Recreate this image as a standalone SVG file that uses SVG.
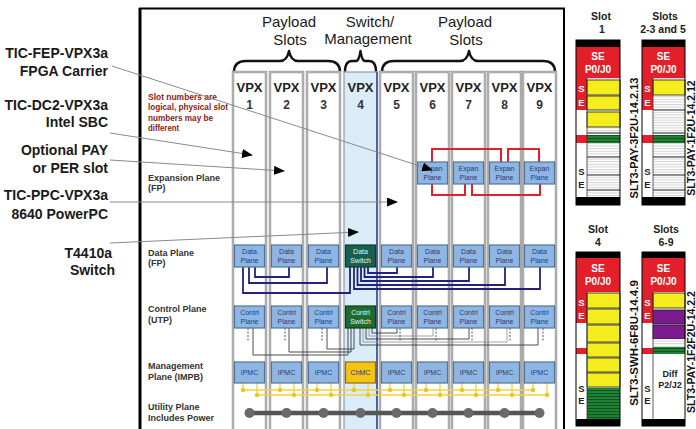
<svg xmlns="http://www.w3.org/2000/svg" width="696" height="429" viewBox="0 0 696 429">
<style>
  text { font-family: "Liberation Sans", Arial, sans-serif; }
  .lbl { font-size: 14px; font-weight: bold; fill: #1a1a1a; text-anchor: end; }
  .hdr { font-size: 15px; fill: #1a1a1a; text-anchor: middle; }
  .vpx { font-size: 13px; font-weight: bold; fill: #222; text-anchor: middle; }
  .num { font-size: 12px; font-weight: bold; fill: #333; text-anchor: middle; }
  .plane { font-size: 9px; font-weight: bold; fill: #333; }
  .note { font-size: 8.6px; font-weight: bold; fill: #8b1a1a; }
  .col { fill: #fff; stroke: #8e8e8e; stroke-width: 2.4; }
  .colin { fill: none; stroke: #e6e6e6; stroke-width: 0.7; }
  .box { fill: #8fb6e3; stroke: #52749c; stroke-width: 1.2; }
  .bt { font-size: 7px; fill: #1f3c78; text-anchor: middle; }
  .wt { font-size: 7px; fill: #e8f4ea; text-anchor: middle; }
  .brace { fill: none; stroke: #111; stroke-width: 2.4; stroke-linejoin: round; }
  .ptr { stroke: #8a8a8a; stroke-width: 1; fill: none; marker-end: url(#ah); }
  .dp { fill: none; stroke: #23237a; stroke-width: 1.8; }
  .ep { fill: none; stroke: #e0202a; stroke-width: 2; }
  .cp { fill: none; stroke: #3a3a3a; stroke-width: 0.9; }
  .cpl { fill: none; stroke: #9a9a9a; stroke-width: 0.9; }
  .dot { fill: none; stroke: #444; stroke-width: 0.9; stroke-dasharray: 2 1.5; }
  .yl { stroke: #f2d33c; stroke-width: 1.3; fill: none; }
  .yd { fill: #f0c419; }
  .slt { font-size: 10.5px; font-weight: bold; fill: #222; text-anchor: middle; }
  .se { font-size: 10px; font-weight: bold; fill: #fff; text-anchor: middle; }
  .sem { font-size: 9.5px; font-weight: bold; fill: #fff; text-anchor: middle; }
  .sed { font-size: 9.5px; font-weight: bold; fill: #222; text-anchor: middle; }
  .vt { font-size: 11px; font-weight: bold; fill: #111; text-anchor: middle; }
  .red { fill: #e3202a; }
  .yel { fill: #f4ec1c; stroke: #222; stroke-width: 0.8; }
  .pur { fill: #7b1b8e; stroke: #222; stroke-width: 0.8; }
  .sep { stroke: #333; stroke-width: 1; }
</style>
<defs>
  <marker id="ah" markerUnits="userSpaceOnUse" markerWidth="11" markerHeight="9" refX="10" refY="4.5" orient="auto">
    <path d="M0,0 L11,4.5 L0,9 Z" fill="#000"/>
  </marker>
  <pattern id="hs" width="6" height="2.6" patternUnits="userSpaceOnUse">
    <rect width="6" height="2.6" fill="#fff"/>
    <line x1="0" y1="0.6" x2="6" y2="0.6" stroke="#b8b8b8" stroke-width="0.7"/>
  </pattern>
  <pattern id="gs" width="6" height="3" patternUnits="userSpaceOnUse">
    <rect width="6" height="3" fill="#1f8236"/>
    <line x1="0" y1="0.6" x2="6" y2="0.6" stroke="#0b4a1b" stroke-width="0.9"/>
  </pattern>
</defs>

<!-- chassis frame -->
<g id="frame">
  <line x1="140" y1="8" x2="140" y2="429" stroke="#000" stroke-width="3"/>
  <line x1="139" y1="8.5" x2="565" y2="8.5" stroke="#000" stroke-width="2"/>
  <line x1="564" y1="8" x2="564" y2="429" stroke="#000" stroke-width="2"/>
</g>

<!-- slot headers -->
<g id="headers">
  <text class="hdr" x="289" y="27">Payload</text>
  <text class="hdr" x="290" y="45">Slots</text>
  <text class="hdr" x="370" y="27">Switch/</text>
  <text class="hdr" x="368" y="44">Management</text>
  <text class="hdr" x="465" y="27">Payload</text>
  <text class="hdr" x="466" y="45">Slots</text>
  <path class="brace" d="M234,72 Q234,61 246,61 L280,61 Q287,61 289,51 Q291,61 298,61 L328,61 Q340,61 340,72"/>
  <path class="brace" d="M345,72 Q345,61 352,61 L356,61 Q359,61 360.5,51 Q362,61 365,61 L369,61 Q376,61 376,72"/>
  <path class="brace" d="M382,72 Q382,61 394,61 L460,61 Q467,61 469,51 Q471,61 478,61 L543,61 Q555,61 555,72"/>
</g>

<!-- slot columns -->
<g id="slots">
  <rect class="col" x="233" y="72" width="33" height="362"/><rect class="colin" x="233" y="72" width="33" height="362"/>
  <rect class="col" x="270" y="72" width="33" height="362"/><rect class="colin" x="270" y="72" width="33" height="362"/>
  <rect class="col" x="307" y="72" width="33" height="362"/><rect class="colin" x="307" y="72" width="33" height="362"/>
  <rect x="344" y="72" width="33" height="362" fill="#d9ecf7" stroke="#9aa6b8" stroke-width="1.4"/>
  <line x1="377" y1="72" x2="377" y2="429" stroke="#2b3a8a" stroke-width="1.4"/>
  <rect class="col" x="380" y="72" width="33" height="362"/><rect class="colin" x="380" y="72" width="33" height="362"/>
  <rect class="col" x="416" y="72" width="33" height="362"/><rect class="colin" x="416" y="72" width="33" height="362"/>
  <rect class="col" x="452" y="72" width="33" height="362"/><rect class="colin" x="452" y="72" width="33" height="362"/>
  <rect class="col" x="488" y="72" width="33" height="362"/><rect class="colin" x="488" y="72" width="33" height="362"/>
  <rect class="col" x="523" y="72" width="33" height="362"/><rect class="colin" x="523" y="72" width="33" height="362"/>

  <text class="vpx" x="249.5" y="92">VPX</text><text class="num" x="249.5" y="109">1</text>
  <text class="vpx" x="286.5" y="92">VPX</text><text class="num" x="286.5" y="109">2</text>
  <text class="vpx" x="323.5" y="92">VPX</text><text class="num" x="323.5" y="109">3</text>
  <text class="vpx" x="360.5" y="92">VPX</text><text class="num" x="360.5" y="109">4</text>
  <text class="vpx" x="396.5" y="92">VPX</text><text class="num" x="396.5" y="109">5</text>
  <text class="vpx" x="432.5" y="92">VPX</text><text class="num" x="432.5" y="109">6</text>
  <text class="vpx" x="468.5" y="92">VPX</text><text class="num" x="468.5" y="109">7</text>
  <text class="vpx" x="504.5" y="92">VPX</text><text class="num" x="504.5" y="109">8</text>
  <text class="vpx" x="539.5" y="92">VPX</text><text class="num" x="539.5" y="109">9</text>
</g>

<!-- plane names and note -->
<g id="plane-labels">
  <text class="note" x="148" y="100" textLength="69" lengthAdjust="spacingAndGlyphs">Slot numbers are</text>
  <text class="note" x="148" y="110" textLength="80" lengthAdjust="spacingAndGlyphs">logical, physical slot</text>
  <text class="note" x="148" y="121" textLength="65" lengthAdjust="spacingAndGlyphs">numbers may be</text>
  <text class="note" x="148" y="131" textLength="31" lengthAdjust="spacingAndGlyphs">different</text>
  <text class="plane" x="148" y="181">Expansion Plane</text>
  <text class="plane" x="148" y="191">(FP)</text>
  <text class="plane" x="148" y="256">Data Plane</text>
  <text class="plane" x="148" y="266">(FP)</text>
  <text class="plane" x="148" y="312">Control Plane</text>
  <text class="plane" x="148" y="323">(UTP)</text>
  <text class="plane" x="148" y="369">Management</text>
  <text class="plane" x="148" y="380">Plane (IMPB)</text>
  <text class="plane" x="148" y="410">Utility Plane</text>
  <text class="plane" x="148" y="421">Includes Power</text>
</g>

<!-- board names -->
<g id="boards">
  <text class="lbl" x="108" y="58">TIC-FEP-VPX3a</text>
  <text class="lbl" x="108" y="76">FPGA Carrier</text>
  <text class="lbl" x="108" y="110">TIC-DC2-VPX3a</text>
  <text class="lbl" x="108" y="127">Intel SBC</text>
  <text class="lbl" x="108" y="155">Optional PAY</text>
  <text class="lbl" x="108" y="173">or PER slot</text>
  <text class="lbl" x="108" y="200">TIC-PPC-VPX3a</text>
  <text class="lbl" x="108" y="219">8640 PowerPC</text>
  <text class="lbl" x="112" y="258">T4410a</text>
  <text class="lbl" x="115" y="275">Switch</text>
</g>

<!-- connectors -->
<g id="connectors">
  <!-- expansion plane links -->
  <path class="ep" d="M432,162 V149 H501 V162"/>
  <path class="ep" d="M508,162 V149 H539 V162"/>
  <path class="ep" d="M432,184 V195 H465 V184"/>
  <path class="ep" d="M472,184 V195 H540 V184"/>
  <!-- data plane links -->
  <path class="dp" d="M255,267 V277 H289 V267"/>
  <path class="dp" d="M249,267 V283 H327 V267"/>
  <path class="dp" d="M243,267 V293 H350 V267"/>
  <path class="dp" d="M368,267 V273 H397 V267"/>
  <path class="dp" d="M364.5,267 V277 H433 V267"/>
  <path class="dp" d="M361,267 V281 H469 V267"/>
  <path class="dp" d="M357.5,267 V285 H505 V267"/>
  <path class="dp" d="M354,267 V289 H540 V267"/>
  <!-- control plane links -->
  <path class="cp" d="M253,328 V355 H348 V328"/>
  <path class="cp" d="M289,328 V352 H351 V328"/>
  <path class="cp" d="M327,328 V349 H354 V328"/>
  <path class="cp" d="M372,328 V333 H397 V328"/>
  <path class="cpl" d="M369,328 V336 H433 V328"/>
  <path class="cp" d="M366,328 V339 H469 V328"/>
  <path class="cpl" d="M363,328 V342 H507 V328"/>
  <path class="cp" d="M360,328 V345 H538 V328"/>
  <path class="dot" d="M248,328 V342 M285,328 V342 M322,328 V342 M400,328 V342 M436,328 V342 M472,328 V342 M510,328 V342 M543,328 V342"/>
  <!-- management bus -->
  <path class="yl" d="M243,390 H533 M257,395 H547"/>
  <path class="yl" d="M243,383 V390 M257,383 V395 M280,383 V390 M294,383 V395 M317,383 V390 M331,383 V395 M354,383 V390 M368,383 V395 M390,383 V390 M404,383 V395 M426,383 V390 M440,383 V395 M462,383 V390 M476,383 V395 M498,383 V390 M512,383 V395 M533,383 V390 M547,383 V395"/>
  <g class="yd">
    <circle cx="243" cy="390" r="2.2"/><circle cx="257" cy="395" r="2.2"/>
    <circle cx="280" cy="390" r="2.2"/><circle cx="294" cy="395" r="2.2"/>
    <circle cx="317" cy="390" r="2.2"/><circle cx="331" cy="395" r="2.2"/>
    <circle cx="354" cy="390" r="2.2"/><circle cx="368" cy="395" r="2.2"/>
    <circle cx="390" cy="390" r="2.2"/><circle cx="404" cy="395" r="2.2"/>
    <circle cx="426" cy="390" r="2.2"/><circle cx="440" cy="395" r="2.2"/>
    <circle cx="462" cy="390" r="2.2"/><circle cx="476" cy="395" r="2.2"/>
    <circle cx="498" cy="390" r="2.2"/><circle cx="512" cy="395" r="2.2"/>
    <circle cx="533" cy="390" r="2.2"/><circle cx="547" cy="395" r="2.2"/>
  </g>
  <!-- utility / power bus -->
  <line x1="248" y1="413" x2="540" y2="413" stroke="#555" stroke-width="4.5" stroke-linecap="round"/>
  <g fill="#6a6a6a">
    <circle cx="249.5" cy="413" r="5"/><circle cx="286.5" cy="413" r="5"/><circle cx="323.5" cy="413" r="5"/>
    <circle cx="360.5" cy="413" r="5"/><circle cx="396.5" cy="413" r="5"/><circle cx="432.5" cy="413" r="5"/>
    <circle cx="468.5" cy="413" r="5"/><circle cx="504.5" cy="413" r="5"/><circle cx="539.5" cy="413" r="5"/>
  </g>
</g>

<!-- expansion plane nodes -->
<g id="expan-6"><rect class="box" x="417.5" y="162" width="30" height="22"/><text class="bt" x="432.5" y="171">Expan</text><text class="bt" x="432.5" y="180">Plane</text></g>
<g id="expan-7"><rect class="box" x="453.5" y="162" width="30" height="22"/><text class="bt" x="468.5" y="171">Expan</text><text class="bt" x="468.5" y="180">Plane</text></g>
<g id="expan-8"><rect class="box" x="489.5" y="162" width="30" height="22"/><text class="bt" x="504.5" y="171">Expan</text><text class="bt" x="504.5" y="180">Plane</text></g>
<g id="expan-9"><rect class="box" x="524.5" y="162" width="30" height="22"/><text class="bt" x="539.5" y="171">Expan</text><text class="bt" x="539.5" y="180">Plane</text></g>

<!-- data plane nodes -->
<g id="data-1"><rect class="box" x="234.5" y="245" width="30" height="22"/><text class="bt" x="249.5" y="254">Data</text><text class="bt" x="249.5" y="263">Plane</text></g>
<g id="data-2"><rect class="box" x="271.5" y="245" width="30" height="22"/><text class="bt" x="286.5" y="254">Data</text><text class="bt" x="286.5" y="263">Plane</text></g>
<g id="data-3"><rect class="box" x="308.5" y="245" width="30" height="22"/><text class="bt" x="323.5" y="254">Data</text><text class="bt" x="323.5" y="263">Plane</text></g>
<g id="data-switch"><rect x="345.5" y="245" width="30" height="22" fill="#17604e" stroke="#0d3d30" stroke-width="1.2"/><text class="wt" x="360.5" y="254">Data</text><text class="wt" x="360.5" y="263">Switch</text></g>
<g id="data-5"><rect class="box" x="381.5" y="245" width="30" height="22"/><text class="bt" x="396.5" y="254">Data</text><text class="bt" x="396.5" y="263">Plane</text></g>
<g id="data-6"><rect class="box" x="417.5" y="245" width="30" height="22"/><text class="bt" x="432.5" y="254">Data</text><text class="bt" x="432.5" y="263">Plane</text></g>
<g id="data-7"><rect class="box" x="453.5" y="245" width="30" height="22"/><text class="bt" x="468.5" y="254">Data</text><text class="bt" x="468.5" y="263">Plane</text></g>
<g id="data-8"><rect class="box" x="489.5" y="245" width="30" height="22"/><text class="bt" x="504.5" y="254">Data</text><text class="bt" x="504.5" y="263">Plane</text></g>
<g id="data-9"><rect class="box" x="524.5" y="245" width="30" height="22"/><text class="bt" x="539.5" y="254">Data</text><text class="bt" x="539.5" y="263">Plane</text></g>

<!-- control plane nodes -->
<g id="ctrl-1"><rect class="box" x="234.5" y="306" width="30" height="22"/><text class="bt" x="249.5" y="315">Contrl</text><text class="bt" x="249.5" y="324">Plane</text></g>
<g id="ctrl-2"><rect class="box" x="271.5" y="306" width="30" height="22"/><text class="bt" x="286.5" y="315">Contrl</text><text class="bt" x="286.5" y="324">Plane</text></g>
<g id="ctrl-3"><rect class="box" x="308.5" y="306" width="30" height="22"/><text class="bt" x="323.5" y="315">Contrl</text><text class="bt" x="323.5" y="324">Plane</text></g>
<g id="ctrl-switch"><rect x="345.5" y="306" width="30" height="22" fill="#1f6b2d" stroke="#0f3d18" stroke-width="1.2"/><text class="wt" x="360.5" y="315">Contrl</text><text class="wt" x="360.5" y="324">Switch</text></g>
<g id="ctrl-5"><rect class="box" x="381.5" y="306" width="30" height="22"/><text class="bt" x="396.5" y="315">Contrl</text><text class="bt" x="396.5" y="324">Plane</text></g>
<g id="ctrl-6"><rect class="box" x="417.5" y="306" width="30" height="22"/><text class="bt" x="432.5" y="315">Contrl</text><text class="bt" x="432.5" y="324">Plane</text></g>
<g id="ctrl-7"><rect class="box" x="453.5" y="306" width="30" height="22"/><text class="bt" x="468.5" y="315">Contrl</text><text class="bt" x="468.5" y="324">Plane</text></g>
<g id="ctrl-8"><rect class="box" x="489.5" y="306" width="30" height="22"/><text class="bt" x="504.5" y="315">Contrl</text><text class="bt" x="504.5" y="324">Plane</text></g>
<g id="ctrl-9"><rect class="box" x="524.5" y="306" width="30" height="22"/><text class="bt" x="539.5" y="315">Contrl</text><text class="bt" x="539.5" y="324">Plane</text></g>

<!-- management controllers -->
<g id="ipmc-1"><rect class="box" x="234.5" y="362" width="30" height="21"/><text class="bt" x="249.5" y="375">IPMC</text></g>
<g id="ipmc-2"><rect class="box" x="271.5" y="362" width="30" height="21"/><text class="bt" x="286.5" y="375">IPMC</text></g>
<g id="ipmc-3"><rect class="box" x="308.5" y="362" width="30" height="21"/><text class="bt" x="323.5" y="375">IPMC</text></g>
<g id="chmc"><rect x="345.5" y="362" width="30" height="21" fill="#f3c316" stroke="#8c7010" stroke-width="1.2"/><text class="bt" x="360.5" y="375" fill="#3a2a00">ChMC</text></g>
<g id="ipmc-5"><rect class="box" x="381.5" y="362" width="30" height="21"/><text class="bt" x="396.5" y="375">IPMC</text></g>
<g id="ipmc-6"><rect class="box" x="417.5" y="362" width="30" height="21"/><text class="bt" x="432.5" y="375">IPMC</text></g>
<g id="ipmc-7"><rect class="box" x="453.5" y="362" width="30" height="21"/><text class="bt" x="468.5" y="375">IPMC</text></g>
<g id="ipmc-8"><rect class="box" x="489.5" y="362" width="30" height="21"/><text class="bt" x="504.5" y="375">IPMC</text></g>
<g id="ipmc-9"><rect class="box" x="524.5" y="362" width="30" height="21"/><text class="bt" x="539.5" y="375">IPMC</text></g>

<!-- pointers from board names -->
<g id="pointers">
  <path class="ptr" d="M112,66 L432,170"/>
  <path class="ptr" d="M110,133 L252,155"/>
  <path class="ptr" d="M110,160 L284,171"/>
  <path class="ptr" d="M110,202 L397,202"/>
  <path class="ptr" d="M110,243 L358,232"/>
</g>

<!-- backplane connector pinouts -->
<g id="pin-slot1">
  <text class="slt" x="601" y="20">Slot</text>
  <text class="slt" x="602" y="33">1</text>
  <rect x="587" y="78" width="33" height="119" fill="url(#hs)"/>
  <rect x="576" y="40" width="44" height="7" fill="#000"/>
  <rect class="red" x="576" y="47" width="44" height="31"/>
  <text class="se" x="598" y="60">SE</text><text class="se" x="598" y="73">P0/J0</text>
  <rect class="red" x="576" y="78" width="11" height="32"/>
  <text class="sem" x="581.5" y="92">S</text><text class="sem" x="581.5" y="106">E</text>
  <rect x="576" y="110" width="11" height="25" fill="#fff"/>
  <rect class="red" x="576" y="135" width="11" height="8"/>
  <rect x="576" y="143" width="11" height="54" fill="#fff"/>
  <text class="sed" x="581.5" y="175">S</text><text class="sed" x="581.5" y="188">E</text>
  <rect class="yel" x="587" y="80" width="33" height="15"/>
  <rect class="yel" x="587" y="96" width="33" height="14"/>
  <rect class="yel" x="587" y="112" width="33" height="15"/>
  <rect x="587" y="135" width="33" height="8" fill="url(#gs)"/>
  <path class="sep" d="M587,133 H620 M587,157 H620 M587,175 H620 M587,190 H620"/>
  <line x1="587" y1="78" x2="587" y2="197" stroke="#333" stroke-width="0.8"/>
  <rect x="576" y="197" width="44" height="8" fill="#000"/>
  <rect x="576" y="40" width="44" height="165" fill="none" stroke="#000" stroke-width="1"/>
  <text class="vt" transform="translate(638,138) rotate(-90)">SLT3-PAY-3F2U-14.2.13</text>
</g>

<g id="pin-slots-2-3-5">
  <text class="slt" x="665" y="20">Slots</text>
  <text class="slt" x="663" y="33">2-3 and 5</text>
  <rect x="653" y="78" width="32" height="119" fill="url(#hs)"/>
  <rect x="642" y="40" width="43" height="7" fill="#000"/>
  <rect class="red" x="642" y="47" width="43" height="31"/>
  <text class="se" x="663.5" y="60">SE</text><text class="se" x="663.5" y="73">P0/J0</text>
  <rect class="red" x="642" y="78" width="11" height="32"/>
  <text class="sem" x="647.5" y="92">S</text><text class="sem" x="647.5" y="106">E</text>
  <rect x="642" y="110" width="11" height="25" fill="#fff"/>
  <rect class="red" x="642" y="135" width="11" height="8"/>
  <rect x="642" y="143" width="11" height="54" fill="#fff"/>
  <text class="sed" x="647.5" y="175">S</text><text class="sed" x="647.5" y="188">E</text>
  <rect class="yel" x="653" y="80" width="32" height="15"/>
  <rect x="653" y="135" width="32" height="8" fill="url(#gs)"/>
  <path class="sep" d="M653,110 H685 M653,133 H685 M653,157 H685 M653,175 H685 M653,190 H685"/>
  <line x1="653" y1="78" x2="653" y2="197" stroke="#333" stroke-width="0.8"/>
  <rect x="642" y="197" width="43" height="8" fill="#000"/>
  <rect x="642" y="40" width="43" height="165" fill="none" stroke="#000" stroke-width="1"/>
  <text class="vt" style="font-size:10.5px" transform="translate(694.5,138) rotate(-90)">SLT3-PAY-1F2U-14.2.12</text>
</g>

<g id="pin-slot4">
  <text class="slt" x="598" y="233">Slot</text>
  <text class="slt" x="598" y="246">4</text>
  <rect x="587" y="292" width="33" height="127" fill="url(#hs)"/>
  <rect x="576" y="252" width="44" height="6" fill="#000"/>
  <rect class="red" x="576" y="258" width="44" height="34"/>
  <text class="se" x="598" y="272">SE</text><text class="se" x="598" y="285">P0/J0</text>
  <rect class="red" x="576" y="292" width="11" height="31"/>
  <text class="sem" x="581.5" y="306">S</text><text class="sem" x="581.5" y="319">E</text>
  <rect x="576" y="323" width="11" height="25" fill="#fff"/>
  <rect class="red" x="576" y="348" width="11" height="6"/>
  <rect x="576" y="354" width="11" height="65" fill="#fff"/>
  <text class="sed" x="581.5" y="392">S</text><text class="sed" x="581.5" y="404">E</text>
  <rect class="yel" x="587" y="293" width="33" height="15"/>
  <rect class="yel" x="587" y="309" width="33" height="15"/>
  <rect class="yel" x="587" y="325" width="33" height="17"/>
  <rect class="yel" x="587" y="343" width="33" height="14"/>
  <rect class="yel" x="587" y="358" width="33" height="14"/>
  <rect class="yel" x="587" y="373" width="33" height="14"/>
  <rect x="587" y="388" width="33" height="31" fill="url(#gs)"/>
  <line x1="587" y1="292" x2="587" y2="419" stroke="#333" stroke-width="0.8"/>
  <rect x="576" y="419" width="44" height="7" fill="#000"/>
  <rect x="576" y="252" width="44" height="174" fill="none" stroke="#000" stroke-width="1"/>
  <text class="vt" style="font-size:11.5px" transform="translate(638,343) rotate(-90)">SLT3-SWH-6F8U-14.4.9</text>
</g>

<g id="pin-slots-6-9">
  <text class="slt" x="666" y="233">Slots</text>
  <text class="slt" x="666" y="246">6-9</text>
  <rect x="653" y="292" width="32" height="127" fill="#fff"/>
  <rect x="642" y="252" width="43" height="6" fill="#000"/>
  <rect class="red" x="642" y="258" width="43" height="34"/>
  <text class="se" x="663.5" y="272">SE</text><text class="se" x="663.5" y="285">P0/J0</text>
  <rect class="red" x="642" y="292" width="11" height="31"/>
  <text class="sem" x="647.5" y="306">S</text><text class="sem" x="647.5" y="319">E</text>
  <rect x="642" y="323" width="11" height="25" fill="#fff"/>
  <rect class="red" x="642" y="348" width="11" height="6"/>
  <rect x="642" y="354" width="11" height="65" fill="#fff"/>
  <text class="sed" x="647.5" y="392">S</text><text class="sed" x="647.5" y="404">E</text>
  <rect class="yel" x="653" y="293" width="32" height="15"/>
  <rect class="pur" x="653" y="310" width="32" height="14"/>
  <rect class="pur" x="653" y="325" width="32" height="14"/>
  <rect x="653" y="339" width="32" height="8" fill="url(#hs)"/>
  <rect x="653" y="347" width="32" height="7" fill="url(#gs)"/>
  <text class="sed" x="670" y="377" style="font-size:9px">Diff</text>
  <text class="sed" x="670" y="388" style="font-size:9px">P2/J2</text>
  <line x1="653" y1="292" x2="653" y2="419" stroke="#333" stroke-width="0.8"/>
  <rect x="642" y="419" width="43" height="7" fill="#000"/>
  <rect x="642" y="252" width="43" height="174" fill="none" stroke="#000" stroke-width="1"/>
  <text class="vt" style="font-size:10.5px" transform="translate(694.5,352) rotate(-90)">SLT3-PAY-1F2F2U-14.2.2</text>
</g>
</svg>
